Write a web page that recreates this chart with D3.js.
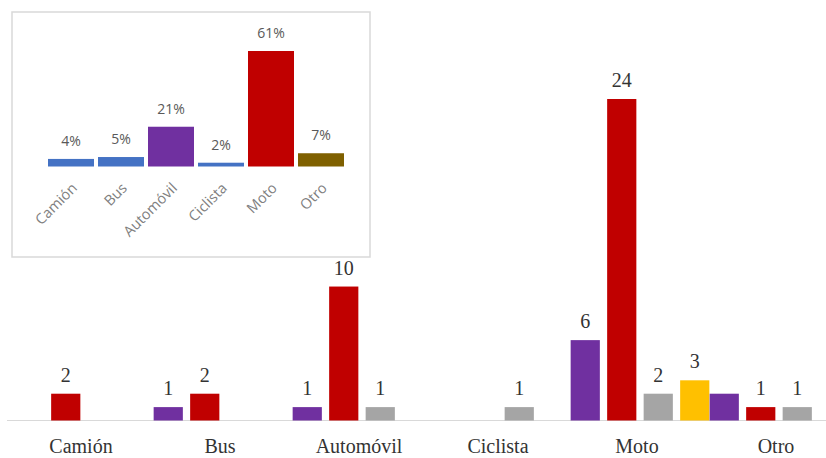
<!DOCTYPE html>
<html><head><meta charset="utf-8">
<script src="https://cdn.jsdelivr.net/npm/d3@7"></script>
<style>html,body{margin:0;padding:0;background:#fff;}svg{display:block;}</style>
</head><body>
<script>
// ---- data ----
const categories = ["Camión", "Bus", "Automóvil", "Ciclista", "Moto", "Otro"];
const seriesNames = ["s1", "s2", "s3", "s4"];
const seriesColors = ["#7030A0", "#C00000", "#A5A5A5", "#FFC000"];
const s1Values = [0, 1, 1, 0, 6, 2];
const s2Values = [2, 2, 10, 0, 24, 1];
const s3Values = [0, 0, 1, 1, 2, 1];
const s4Values = [0, 0, 0, 0, 3, 0];
// data labels that are not shown in the original (series, category)
const hiddenLabels = [["s1", "Otro"]];

const insetCategories = ["Camión", "Bus", "Automóvil", "Ciclista", "Moto", "Otro"];
const insetPercents = [4, 5, 21, 2, 61, 7];
const insetColors = ["#4472C4", "#4472C4", "#7030A0", "#4472C4", "#C00000", "#7F6000"];

// ---- build ----
const W = 826, H = 458;
const svg = d3.select("body").append("svg").attr("width", W).attr("height", H);

const allValues = [s1Values, s2Values, s3Values, s4Values];
const rows = [];
categories.forEach((c, ci) => {
  seriesNames.forEach((s, si) => {
    rows.push({cat: c, series: s, color: seriesColors[si], value: allValues[si][ci]});
  });
});

const x0 = d3.scaleBand().domain(categories).range([14.5, 848.5]).padding(0);
const x1 = d3.scaleBand().domain(seriesNames).range([-73, 73]).paddingInner(0.2).paddingOuter(0.1);
const y = d3.scaleLinear().domain([0, 24]).range([420.5, 99]);

const serif = "'Liberation Serif', 'Times New Roman', serif";

// baseline
svg.append("line").attr("x1", 7).attr("x2", W).attr("y1", y(0)).attr("y2", y(0))
  .attr("stroke", "#d9d9d9").attr("stroke-width", 1.2);

const cx = d => x0(d.cat) + x0.bandwidth() / 2 + x1(d.series);
const drawn = rows.filter(d => d.value > 0);

svg.append("g").selectAll("rect").data(drawn).join("rect")
  .attr("x", cx).attr("width", x1.bandwidth())
  .attr("y", d => y(d.value)).attr("height", d => y(0) - y(d.value))
  .attr("fill", d => d.color);

const isHidden = d => hiddenLabels.some(h => h[0] === d.series && h[1] === d.cat);
svg.append("g").selectAll("text").data(drawn.filter(d => !isHidden(d))).join("text")
  .attr("x", d => cx(d) + x1.bandwidth() / 2)
  .attr("y", d => y(d.value) - 12)
  .attr("text-anchor", "middle")
  .attr("font-family", serif).attr("font-size", 20).attr("fill", "#333")
  .text(d => d.value);

// category axis labels
const xAxis = d3.axisBottom(x0).tickSize(0).tickPadding(0);
const gx = svg.append("g").attr("transform", `translate(-3,0)`).call(xAxis);
gx.select(".domain").remove();
gx.selectAll("text").attr("y", 453).attr("dy", null)
  .attr("font-family", serif).attr("font-size", 20).attr("fill", "#333");

// ---- inset ----
const inset = svg.append("g");
inset.append("rect").attr("x", 12).attr("y", 12).attr("width", 358).attr("height", 245)
  .attr("fill", "#fff").attr("stroke", "#d9d9d9").attr("stroke-width", 1.5);

const ix = d3.scaleBand().domain(insetCategories).range([46, 346]).paddingInner(0.08).paddingOuter(0.04);
const iy = d3.scaleLinear().domain([0, 61]).range([166.5, 51]);
const insetRows = insetCategories.map((c, i) => ({cat: c, value: insetPercents[i], color: insetColors[i]}));
const sans = "'Open Sans', 'Noto Sans', sans-serif";

inset.append("g").selectAll("rect").data(insetRows).join("rect")
  .attr("x", d => ix(d.cat)).attr("width", ix.bandwidth())
  .attr("y", d => iy(d.value)).attr("height", d => iy(0) - iy(d.value))
  .attr("fill", d => d.color);

inset.append("g").selectAll("text").data(insetRows).join("text")
  .attr("x", d => ix(d.cat) + ix.bandwidth() / 2)
  .attr("y", d => iy(d.value) - 13)
  .attr("text-anchor", "middle")
  .attr("font-family", sans).attr("font-size", 14).attr("fill", "#595959")
  .text(d => d.value + "%");

const ixAxis = d3.axisBottom(ix).tickSize(0).tickPadding(0);
const gix = inset.append("g").call(ixAxis);
gix.select(".domain").remove();
gix.selectAll(".tick text")
  .attr("text-anchor", "end").attr("x", 0).attr("y", 0).attr("dy", null)
  .attr("transform", "translate(7,189) rotate(-45)")
  .attr("font-family", sans).attr("font-size", 14.5).attr("fill", "#808080");
</script>
</body></html>
